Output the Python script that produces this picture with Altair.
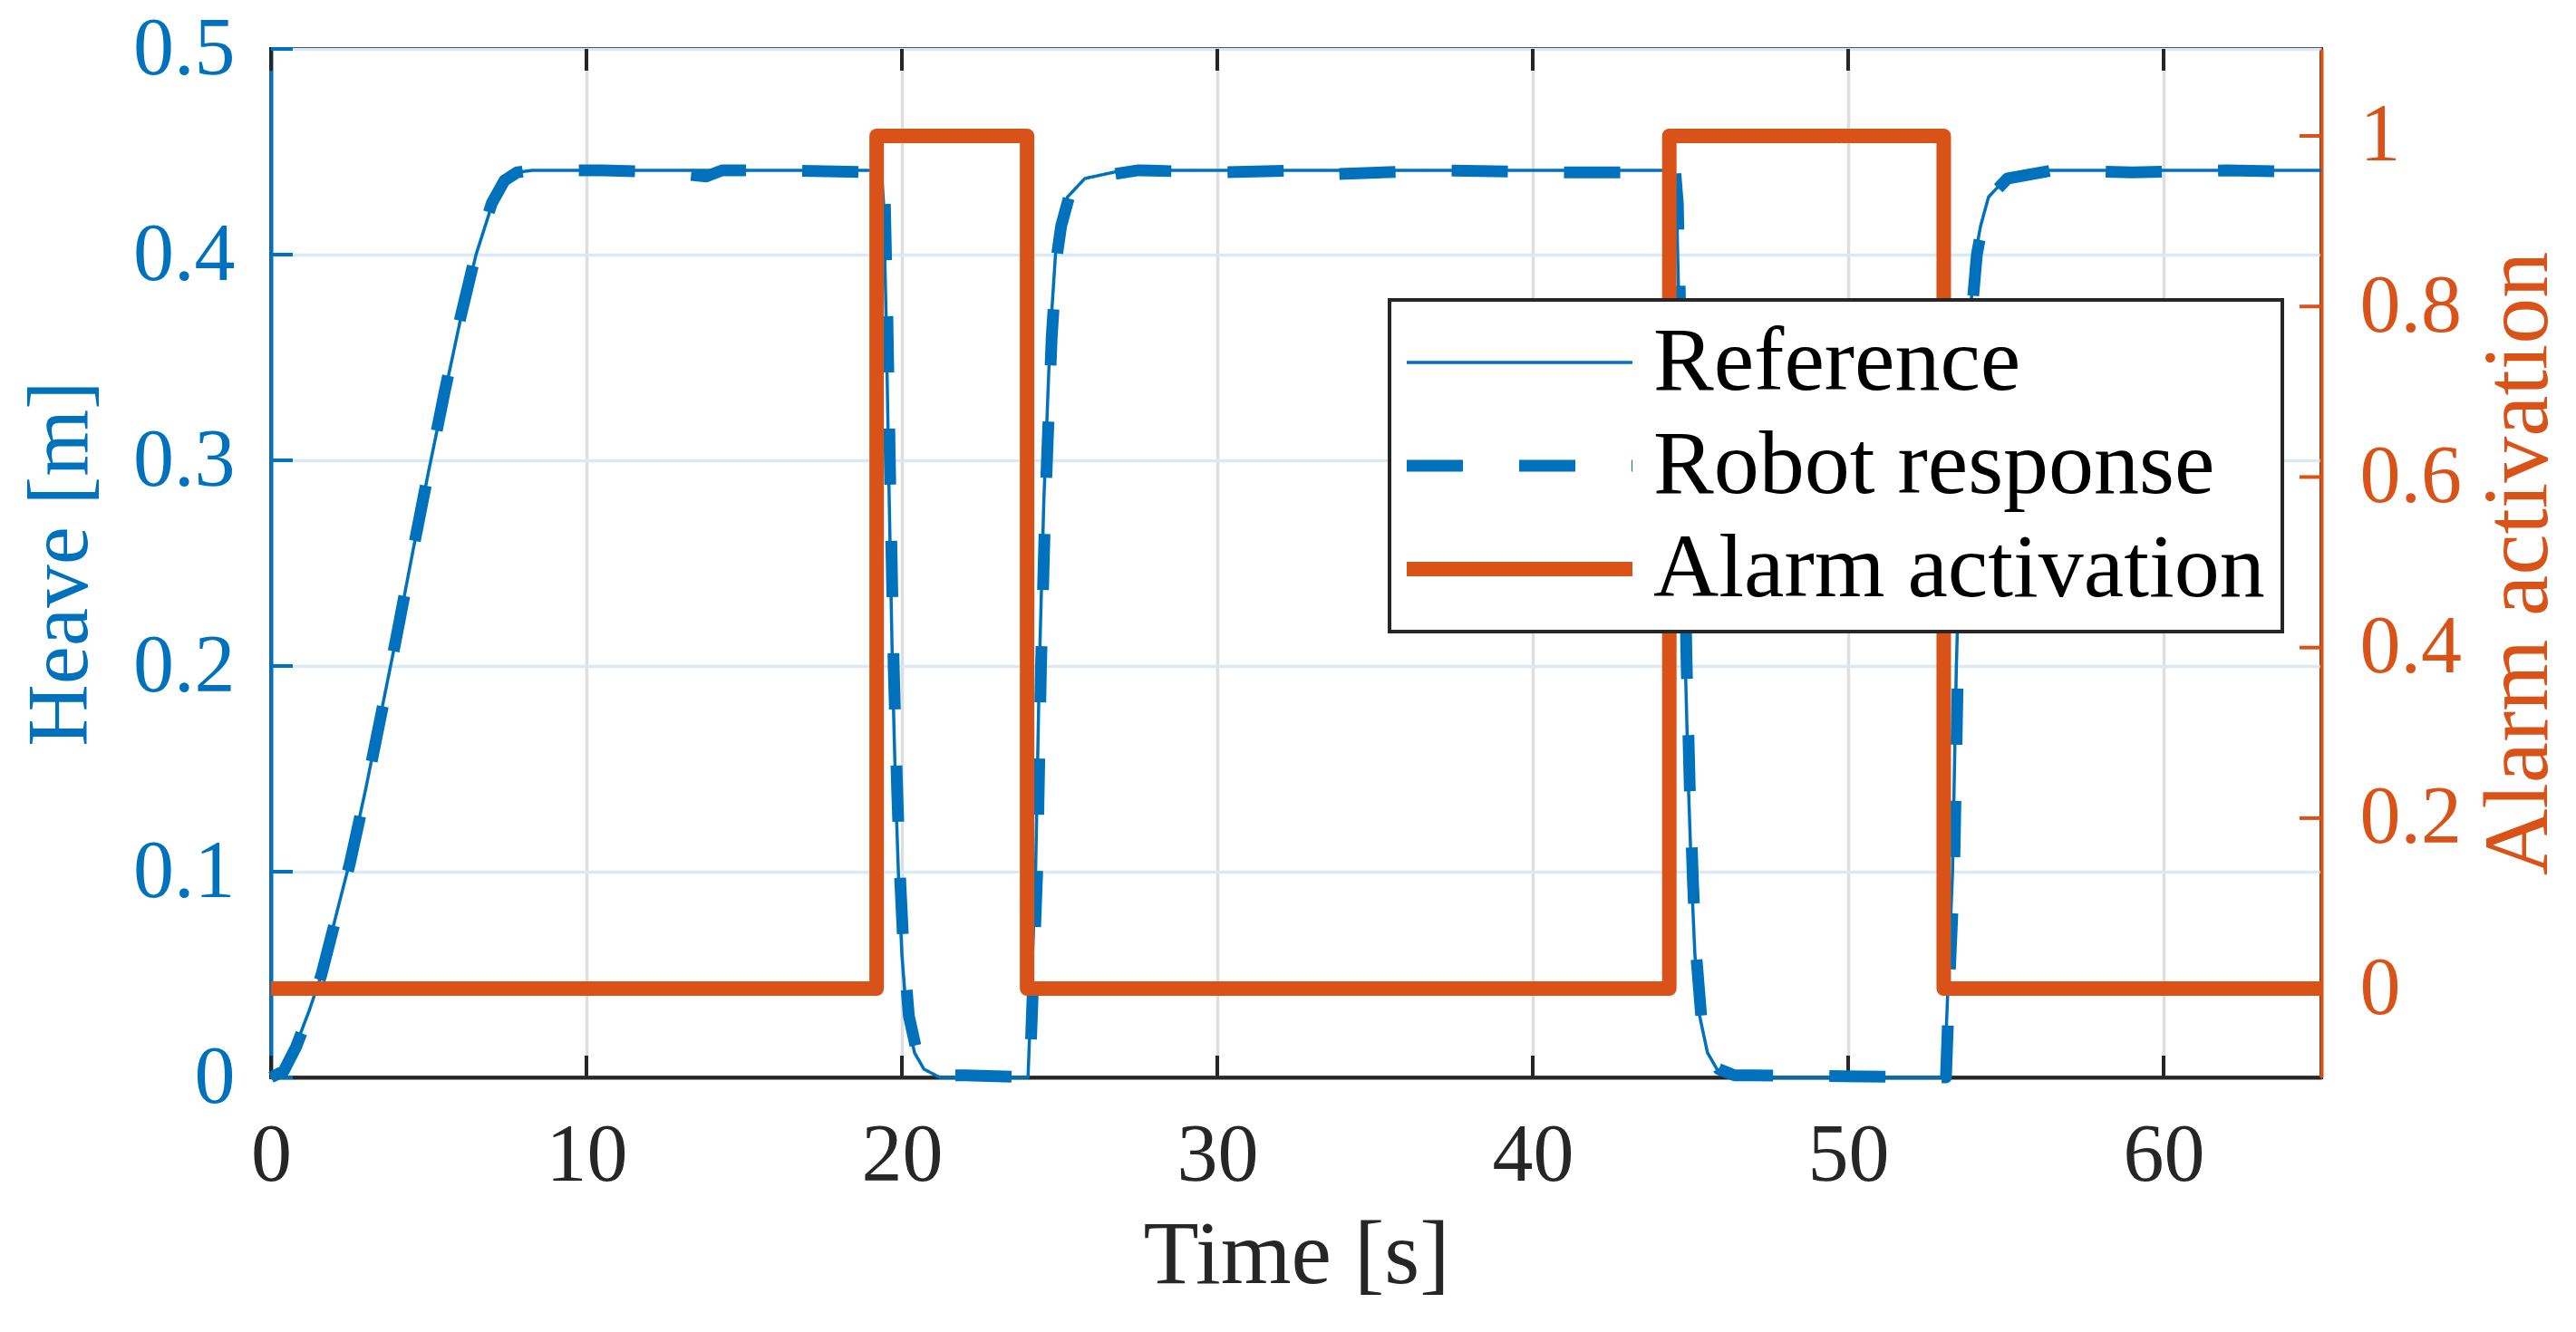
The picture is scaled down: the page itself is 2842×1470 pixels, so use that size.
import altair as alt
import pandas as pd

BLUE = "#0072BD"
ORANGE = "#D95319"
DARK = "#262626"
FONT = "Liberation Serif"

W, H = 2262, 1135
TICK = 24

# ---------------- data ----------------
SERIES = ["Reference", "Robot response", "Alarm activation"]

x_ticks = [0, 10, 20, 30, 40, 50, 60]
heave_ticks = [0, 0.1, 0.2, 0.3, 0.4, 0.5]
alarm_ticks = [0, 0.2, 0.4, 0.6, 0.8, 1]

# Reference heave [m]
ref_time = [0, 0.4, 0.8, 1.2, 1.6, 2.0, 2.5, 3.0, 3.5, 4.0, 4.5, 5.0, 5.5, 6.0, 6.5, 7.0, 7.4, 7.8, 8.3,
            19.35, 19.42, 19.5, 19.6, 19.7, 19.8, 19.9, 20.0, 20.15, 20.4, 20.7, 21.2,
            24.0, 24.12, 24.24, 24.36, 24.5, 24.7, 24.87, 25.0, 25.25, 25.8, 27.0,
            44.49, 44.56, 44.64, 44.74, 44.84, 44.94, 45.04, 45.14, 45.29, 45.54, 45.84, 46.34,
            53.05, 53.18, 53.31, 53.43, 53.58, 53.8, 54.03, 54.2, 54.45, 55.0, 56.4, 65.0]
ref_heave = [0, 0.004, 0.016, 0.032, 0.050, 0.075, 0.105, 0.140, 0.178, 0.216, 0.256, 0.295, 0.332, 0.368, 0.400, 0.424, 0.436, 0.440, 0.441,
             0.441, 0.425, 0.37, 0.28, 0.20, 0.14, 0.095, 0.06, 0.03, 0.012, 0.004, 0.0,
             0.0, 0.05, 0.10, 0.20, 0.28, 0.36, 0.40, 0.414, 0.428, 0.437, 0.441,
             0.441, 0.425, 0.37, 0.28, 0.20, 0.14, 0.095, 0.06, 0.03, 0.012, 0.004, 0.0,
             0.0, 0.05, 0.10, 0.20, 0.28, 0.36, 0.40, 0.414, 0.428, 0.437, 0.441, 0.441]

# Robot response heave [m]
rob_time = [0, 0.4, 0.8, 1.2, 1.6, 2.0, 2.5, 3.0, 3.5, 4.0, 4.5, 5.0, 5.5, 6.0, 6.5, 7.0, 7.4, 7.8, 8.3,
            10.5, 12.5, 13.8, 14.3, 16.0, 19.4,
            19.46, 19.54, 19.64, 19.74, 19.85, 19.95, 20.06, 20.22, 20.48, 20.8, 21.3, 22.0, 24.05,
            24.17, 24.29, 24.41, 24.55, 24.75, 24.92, 25.05, 25.3, 25.85, 27.5,
            30.0, 33.0, 33.5, 37.0, 41.0, 44.52,
            44.6, 44.68, 44.78, 44.88, 44.98, 45.08, 45.18, 45.34, 45.6, 45.9, 46.4, 47.0, 53.1,
            53.22, 53.36, 53.48, 53.63, 53.85, 54.08, 54.25, 54.5, 55.05, 56.5,
            59.0, 62.0, 65.0]
rob_heave = [0, 0.003, 0.015, 0.031, 0.050, 0.074, 0.104, 0.139, 0.177, 0.216, 0.256, 0.295, 0.333, 0.369, 0.401, 0.425, 0.436, 0.440, 0.441,
             0.441, 0.440, 0.438, 0.441, 0.441, 0.440,
             0.425, 0.37, 0.28, 0.20, 0.14, 0.095, 0.06, 0.03, 0.012, 0.004, 0.001, 0.001, 0.0,
             0.05, 0.10, 0.20, 0.28, 0.36, 0.40, 0.414, 0.428, 0.437, 0.441,
             0.440, 0.441, 0.439, 0.441, 0.440, 0.440,
             0.425, 0.37, 0.28, 0.20, 0.14, 0.095, 0.06, 0.03, 0.012, 0.004, 0.001, 0.001, 0.0,
             0.05, 0.10, 0.20, 0.28, 0.36, 0.40, 0.414, 0.428, 0.437, 0.441,
             0.440, 0.441, 0.440]

# Alarm activation (step after)
alarm_time = [0, 19.2, 23.97, 44.33, 53.03, 65.0]
alarm_value = [0, 1, 0, 1, 0, 0]

ref_df = pd.DataFrame({"time": ref_time, "heave": ref_heave, "series": SERIES[0]})
rob_df = pd.DataFrame({"time": rob_time, "heave": rob_heave, "series": SERIES[1]})
alarm_df = pd.DataFrame({"time": alarm_time, "alarm": alarm_value, "series": SERIES[2]})
xt_df = pd.DataFrame({"time": x_ticks})
ht_df = pd.DataFrame({"heave": heave_ticks})
at_df = pd.DataFrame({"alarm": alarm_ticks})

# ---------------- encodings ----------------
X_TIME = alt.X(
    "time:Q",
    scale=alt.Scale(domain=[0, 65], nice=False, zero=False),
    axis=alt.Axis(values=x_ticks, format="d", title="Time [s]", grid=True,
                  gridColor="#DEDEDE", gridWidth=3.5, ticks=False, tickSize=0,
                  domainColor=DARK, domainWidth=4, labelColor=DARK, titleColor=DARK,
                  labelFontSize=90, titleFontSize=100, labelPadding=42, titlePadding=16,
                  labelFlush=False, labelOverlap=False, labelLimit=0),
)
Y_HEAVE = alt.Y(
    "heave:Q",
    scale=alt.Scale(domain=[0, 0.5], nice=False, zero=False),
    axis=alt.Axis(values=heave_ticks, format="~g", orient="left", title="Heave [m]",
                  grid=True, gridColor="#D9EAF5", gridWidth=3.5, ticks=False, tickSize=0,
                  domainColor=BLUE, domainWidth=4, labelColor=BLUE, titleColor=BLUE,
                  labelFontSize=90, titleFontSize=95, labelPadding=40, titlePadding=31,
                  labelFlush=False, labelOverlap=False, labelLimit=0),
)
Y_ALARM = alt.Y(
    "alarm:Q",
    scale=alt.Scale(domain=[-0.104, 1.102], nice=False, zero=False),
    axis=alt.Axis(values=alarm_ticks, format="~g", orient="right", title="Alarm activation",
                  grid=False, ticks=False, tickSize=0,
                  domainColor=ORANGE, domainWidth=4, labelColor=ORANGE, titleColor=ORANGE,
                  labelFontSize=90, titleFontSize=102, labelPadding=42, titlePadding=13,
                  titleAngle=270, titleBaseline="top",
                  labelFlush=False, labelOverlap=False, labelLimit=0),
)

LEGEND = alt.Legend(
    title=None, orient="none", legendX=1234, legendY=277,
    symbolType="M-1.667,0L6.633,0", symbolSize=3600,
    symbolStrokeWidth={"expr": "datum.value == 'Reference' ? 3.5 : (datum.value == 'Robot response' ? 13 : 16)"},
    labelFont=FONT, labelFontSize=100, labelColor="#000000", labelLimit=0,
    labelOffset=172, rowPadding=14, padding=19,
    strokeColor=DARK, fillColor="#FFFFFF",
)
COLOR = alt.Color("series:N", scale=alt.Scale(domain=SERIES, range=[BLUE, BLUE, ORANGE]), legend=LEGEND)
DASH = alt.StrokeDash("series:N", scale=alt.Scale(domain=SERIES, range=[[1, 0], [62, 62], [1, 0]]), legend=LEGEND)

# ---------------- layers ----------------
x_ticks_bottom = alt.Chart(xt_df).mark_rule(color=DARK, strokeWidth=4).encode(
    x=X_TIME, y=alt.value(H), y2=alt.value(H - TICK))
x_ticks_top = alt.Chart(xt_df).mark_rule(color=DARK, strokeWidth=4).encode(
    x=X_TIME, y=alt.value(0), y2=alt.value(TICK))
heave_tick_marks = alt.Chart(ht_df).mark_rule(color=BLUE, strokeWidth=4).encode(
    y=Y_HEAVE, x=alt.value(0), x2=alt.value(TICK))
alarm_tick_marks = alt.Chart(at_df).mark_rule(color=ORANGE, strokeWidth=4).encode(
    y=Y_ALARM, x=alt.value(W - TICK), x2=alt.value(W))

ref_line = alt.Chart(ref_df).mark_line(strokeJoin="round").encode(
    x=X_TIME, y=Y_HEAVE, color=COLOR, strokeDash=DASH, strokeWidth=alt.value(3.5))
rob_line = alt.Chart(rob_df).mark_line(strokeJoin="round").encode(
    x=X_TIME, y=Y_HEAVE, color=COLOR, strokeDash=DASH, strokeWidth=alt.value(13))
alarm_line = alt.Chart(alarm_df).mark_line(interpolate="step-after", strokeJoin="round").encode(
    x=X_TIME, y=Y_ALARM, color=COLOR, strokeDash=DASH, strokeWidth=alt.value(16))

left = alt.layer(x_ticks_bottom, x_ticks_top, heave_tick_marks, ref_line, rob_line)
right = alt.layer(alarm_tick_marks, alarm_line)

chart = (
    alt.layer(left, right)
    .resolve_scale(y="independent")
    .properties(
        width=W, height=H,
        autosize=alt.AutoSizeParams(type="none"),
        padding={"left": 291, "top": 46, "right": 273, "bottom": 273},
        background="#FFFFFF",
    )
    .configure_view(stroke=DARK, strokeWidth=4)
    .configure_axis(labelFont=FONT, titleFont=FONT, titleFontWeight="normal")
    .configure_legend(labelFont=FONT, strokeWidth=4)
)

chart.save("out.html", embed_options={"renderer": "svg", "actions": False})
